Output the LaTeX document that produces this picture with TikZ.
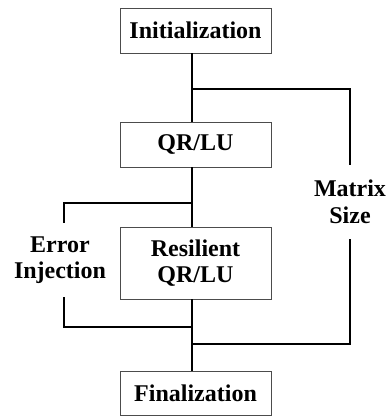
\documentclass[tikz,border=0pt]{standalone}
\usepackage{fontspec}
\setmainfont{Liberation Serif}
\usetikzlibrary{positioning}

\begin{document}
\begin{tikzpicture}[x=1pt,y=-1pt,
	block/.style={draw=black!70, line width=0.9pt, minimum width=151pt, inner sep=0pt,
		font=\fontsize{24}{26.5}\selectfont\bfseries, align=center},
	lbl/.style={inner sep=0pt, minimum height=74pt,
		font=\fontsize{24}{26.5}\selectfont\bfseries, align=center},
	link/.style={line width=1.8pt}]
		
		\useasboundingbox (0,0) rectangle (387,416);
		
		% main column
		\node[block, minimum height=45pt] (init) at (195.5,30.5) {Initialization};
		\node[block, minimum height=45pt] (qr) at (195.5,144.5) {QR/LU};
		\node[block, minimum height=72pt] (res) at (195.5,263) {Resilient\\QR/LU};
		\node[block, minimum height=44pt] (fin) at (195.5,393) {Finalization};
		
		% side labels
		\node[lbl] (size) at (350,202) {Matrix\\Size};
		\node[lbl] (err) at (60,260) {Error\\Injection};
		
		\coordinate (spine) at (192,0);
		\coordinate (split) at (192,89);
		\coordinate (fork) at (192,203);
		\coordinate (merge) at (192,327);
		\coordinate (join) at (192,344);
		
		\draw[link] (init.south -| spine) -- (qr.north -| spine);
		\draw[link] (qr.south -| spine) -- (res.north -| spine);
		\draw[link] (res.south -| spine) -- (fin.north -| spine);
		
		\draw[link] (split) -| (size.north);
		\draw[link] (size.south) |- (join);
		\draw[link] ([xshift=4pt]err.north) |- (fork);
		\draw[link] ([xshift=4pt]err.south) |- (merge);
\end{tikzpicture}
\end{document}
